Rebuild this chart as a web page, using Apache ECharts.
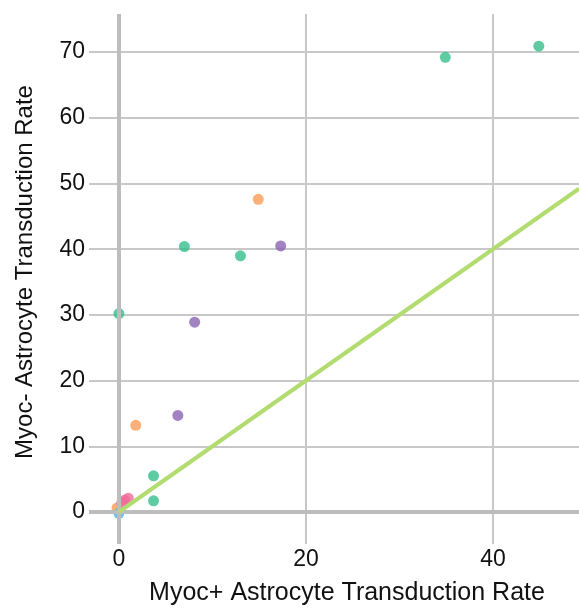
<!DOCTYPE html>
<html>
<head>
<meta charset="utf-8">
<script src="https://cdn.jsdelivr.net/npm/echarts@6/dist/echarts.min.js"></script>
<style>
  html, body { margin: 0; padding: 0; background: #fff; }
  #chart { width: 579px; height: 610px; }
</style>
</head>
<body>
<div id="chart"></div>
<script>
// points per group: [myoc+, myoc-]
const greenPoints = [[0, 30.2], [3.7, 5.5], [3.7, 1.7], [7, 40.4], [13, 39], [34.9, 69.2], [44.9, 70.9]];
const orangePoints = [[-0.2, 0.6], [1.8, 13.2], [14.9, 47.6]];
const purplePoints = [[6.3, 14.7], [8.1, 28.9], [17.3, 40.5]];
const pinkPoints = [[0.3, 1.4], [0.6, 1.8], [1, 2.1]];
const bluePoints = [[0, -0.2]];
const identityLine = [[0, 0], [49.2, 49.2]];
const xTicks = [0, 20, 40];
const yTicks = [0, 10, 20, 30, 40, 50, 60, 70];

const gridColor = "#c8c8c8";
const font = "Liberation Sans";

function scatter(name, data, color) {
  return {
    name,
    type: "scatter",
    data,
    symbolSize: 11,
    itemStyle: { color },
  };
}

const chart = echarts.init(document.getElementById("chart"), null, { renderer: "canvas" });
chart.setOption({
  animation: false,
  grid: { left: 89, right: 0, top: 14, bottom: 66, containLabel: false, outerBoundsMode: "none" },
  xAxis: {
    type: "value",
    min: -3.2,
    max: 49.2,
    name: "Myoc+ Astrocyte Transduction Rate",
    nameLocation: "middle",
    nameGap: 37,
    nameTextStyle: { fontFamily: font, fontSize: 25, color: "#111", padding: [0, 0, 0, 26] },
    axisLine: { show: false },
    axisTick: { show: false, customValues: xTicks },
    axisLabel: { customValues: xTicks, fontFamily: font, fontSize: 23, color: "#111", margin: 4 },
    splitLine: { show: true, lineStyle: { color: gridColor, width: 2 } },
  },
  yAxis: {
    type: "value",
    min: -4.87,
    max: 75.8,
    name: "Myoc- Astrocyte Transduction Rate",
    nameLocation: "middle",
    nameGap: 52,
    nameTextStyle: { fontFamily: font, fontSize: 24, color: "#111", padding: [0, 0, 0, 14] },
    axisLine: { show: false },
    axisTick: { show: false, customValues: yTicks },
    axisLabel: { customValues: yTicks, fontFamily: font, fontSize: 23, color: "#111", margin: 4 },
    splitLine: { show: true, lineStyle: { color: gridColor, width: 2 } },
  },
  series: [
    {
      type: "line",
      data: [],
      silent: true,
      markLine: {
        symbol: "none",
        silent: true,
        label: { show: false },
        lineStyle: { color: "#bdbdbd", width: 4, type: "solid" },
        data: [{ xAxis: 0 }, { yAxis: 0 }],
      },
    },
    scatter("purple", purplePoints, "#8a63b3"),
    scatter("orange", orangePoints, "#fb9c56"),
    scatter("pink", pinkPoints, "#ee6a9a"),
    scatter("green", greenPoints, "#36be8c"),
    scatter("blue", bluePoints, "#3fb6ea"),
    {
      name: "identity",
      type: "line",
      data: identityLine,
      symbol: "none",
      lineStyle: { color: "#b2db70", width: 4 },
      z: 5,
    },
  ],
});
</script>
</body>
</html>
